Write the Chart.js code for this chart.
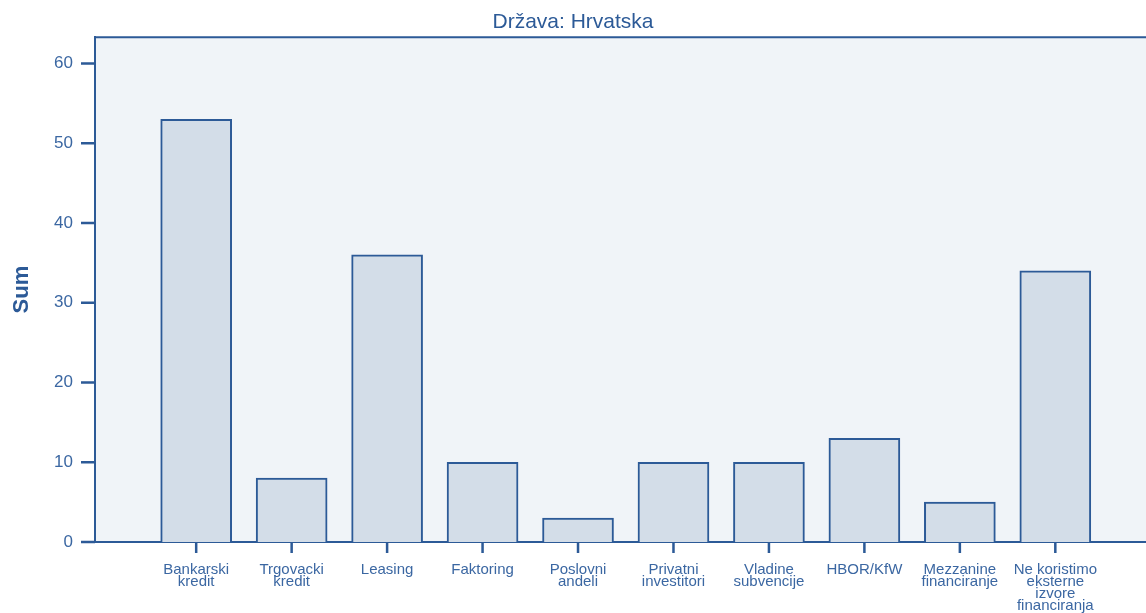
<!DOCTYPE html>
<html>
<head>
<meta charset="utf-8">
<script src="https://cdn.jsdelivr.net/npm/chart.js@4"></script>
<style>
  html, body { margin: 0; padding: 0; background: #fff; }
  #wrap { width: 1146px; height: 613px; }
</style>
</head>
<body>
<div id="wrap"><canvas id="myChart"></canvas></div>
<script>
// data
const categories = [
  ['Bankarski', 'kredit'],
  ['Trgovacki', 'kredit'],
  ['Leasing'],
  ['Faktoring'],
  ['Poslovni', 'andeli'],
  ['Privatni', 'investitori'],
  ['Vladine', 'subvencije'],
  ['HBOR/KfW'],
  ['Mezzanine', 'financiranje'],
  ['Ne koristimo', 'eksterne', 'izvore', 'financiranja']
];
const sums = [53, 8, 36, 10, 3, 10, 10, 13, 5, 34];
const yTicks = [0, 10, 20, 30, 40, 50, 60];
const chartTitle = 'Država: Hrvatska';
const yTitle = 'Sum';

const blue = '#2c5a97';
const textBlue = '#3b67a2';
const font = 'Liberation Sans, Arial, sans-serif';

// panel background + top border of the frame
const framePlugin = {
  id: 'frame',
  beforeDraw(chart) {
    const a = chart.chartArea, ctx = chart.ctx;
    ctx.save();
    ctx.fillStyle = '#f0f4f8';
    ctx.fillRect(a.left, a.top, a.right - a.left, a.bottom - a.top);
    ctx.strokeStyle = blue;
    ctx.lineWidth = 2;
    ctx.beginPath();
    ctx.moveTo(a.left, a.top);
    ctx.lineTo(a.right, a.top);
    ctx.stroke();
    ctx.restore();
  }
};

const ctx = document.getElementById('myChart');
new Chart(ctx, {
  type: 'bar',
  data: {
    datasets: [{
      data: sums.map((v, i) => ({ x: i, y: v })),
      backgroundColor: '#d3dde8',
      borderColor: blue,
      borderWidth: 2,
      borderSkipped: 'bottom',
      barThickness: 71
    }]
  },
  options: {
    responsive: true,
    maintainAspectRatio: false,
    animation: false,
    layout: { padding: { left: 0, right: 0, top: 0, bottom: 0 } },
    plugins: {
      legend: { display: false },
      tooltip: { enabled: false },
      title: {
        display: true,
        text: chartTitle,
        color: blue,
        font: { family: font, size: 21, weight: 'normal' },
        padding: { top: 10, bottom: 2 }
      }
    },
    scales: {
      x: {
        type: 'linear',
        offset: false,
        min: -1.06,
        max: 9.95,
        grid: { display: false, drawTicks: false },
        border: { display: true, color: blue, width: 2 },
        afterBuildTicks(scale) {
          scale.ticks = categories.map((c, i) => ({ value: i }));
        },
        afterFit(scale) { scale.height = 71; },
        ticks: {
          autoSkip: false,
          maxRotation: 0,
          padding: 22,
          color: textBlue,
          font: { family: font, size: 15, lineHeight: 0.8 },
          callback: (v) => categories[v]
        }
      },
      y: {
        min: 0,
        max: 63.3,
        grid: { display: false, drawTicks: false },
        border: { display: true, color: blue, width: 2 },
        afterBuildTicks(scale) {
          scale.ticks = yTicks.map(v => ({ value: v }));
        },
        afterFit(scale) { scale.width = 95; },
        ticks: {
          padding: 22,
          color: textBlue,
          font: { family: font, size: 17 }
        },
        title: {
          display: true,
          text: yTitle,
          color: blue,
          font: { family: font, size: 22, weight: 'bold' },
          padding: { top: 9, bottom: 0 }
        }
      }
    }
  },
  plugins: [framePlugin, {
    // tick marks outside both axes
    id: 'tickMarks',
    afterDraw(chart) {
      const c = chart.ctx, xs = chart.scales.x, ys = chart.scales.y;
      c.save();
      c.strokeStyle = blue;
      c.lineWidth = 2.5;
      c.beginPath();
      yTicks.forEach(v => {
        const y = ys.getPixelForValue(v);
        c.moveTo(ys.right - 14, y);
        c.lineTo(ys.right, y);
      });
      categories.forEach((cat, i) => {
        const x = xs.getPixelForValue(i);
        c.moveTo(x, xs.top);
        c.lineTo(x, xs.top + 11);
      });
      c.stroke();
      c.restore();
    }
  }]
});
</script>
</body>
</html>
